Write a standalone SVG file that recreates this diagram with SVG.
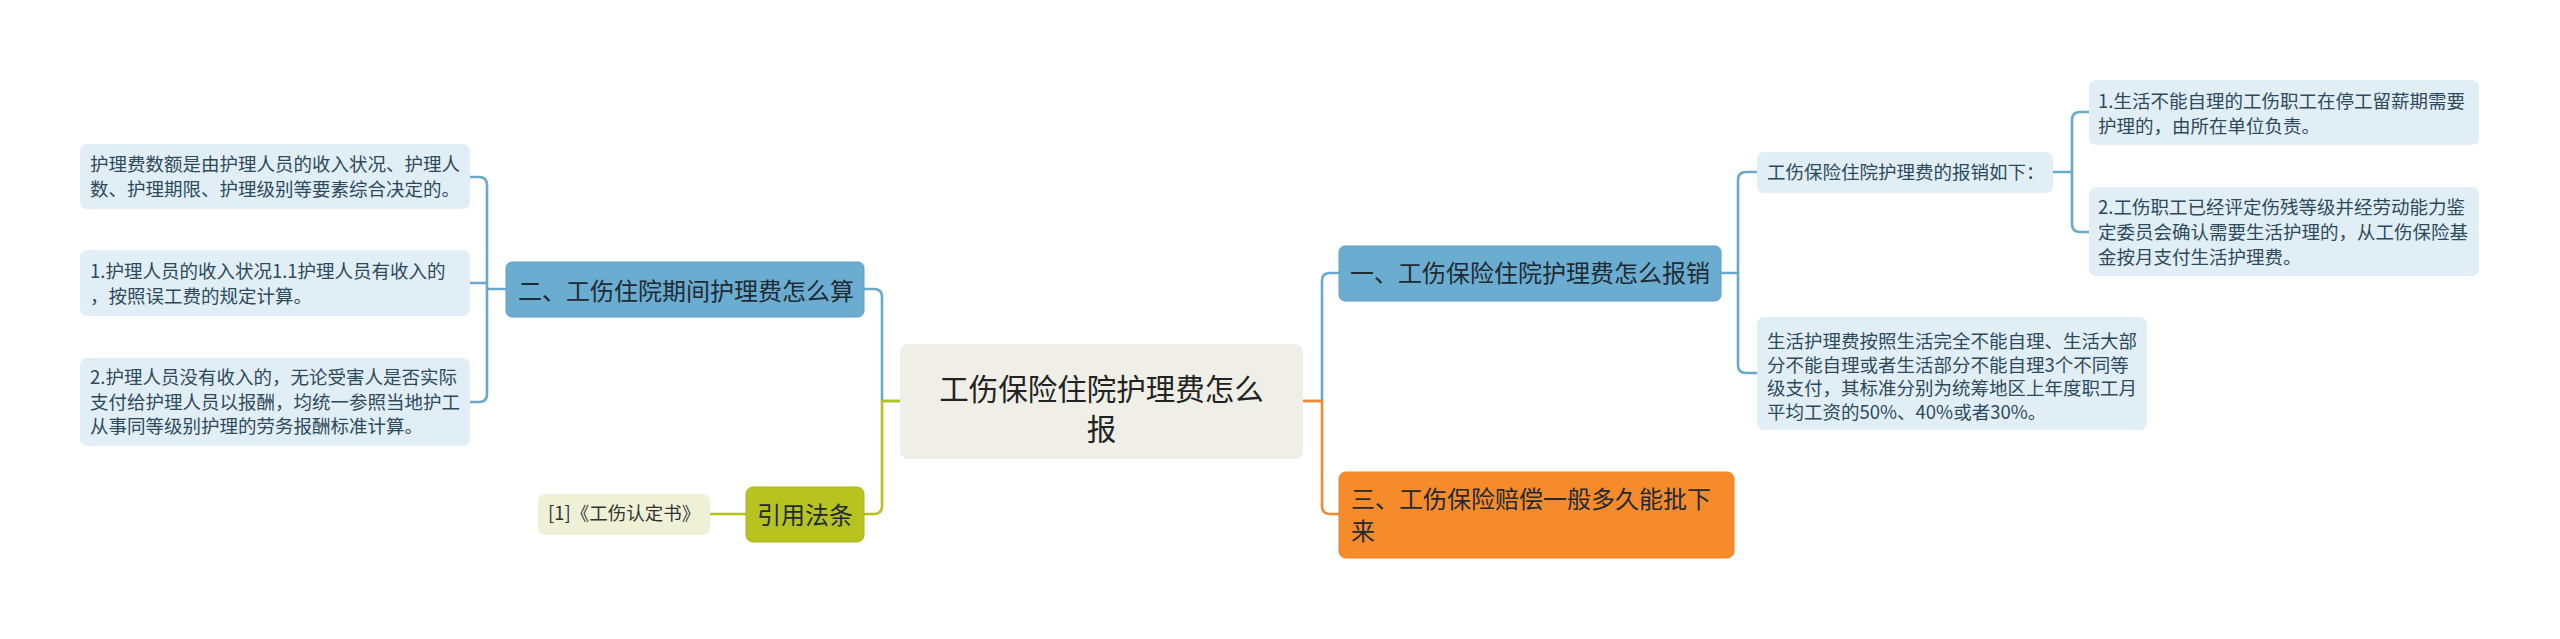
<svg xmlns="http://www.w3.org/2000/svg" width="2560" height="639" viewBox="0 0 2560 639">
<style>
text{font-family:"Noto Sans CJK SC","Noto Sans",sans-serif;}
.c{fill:none;stroke-width:2.6;stroke-linecap:round;stroke-linejoin:round;}
.cb{stroke:#6aa9cb;}
.cg{stroke:#b4c21f;}
.co{stroke:#ef8a2f;}
.leaf{fill:#e2eef6;}
.lt{font-size:18.5px;fill:#2c4a5c;}
.bb{fill:#6badd1;stroke:#5f9fc4;stroke-width:1;}
.bt{font-size:24px;fill:#1f2a33;}
</style>
<rect width="2560" height="639" fill="#ffffff"/>
<g id="connectors">
<path class="c cb" d="M900,401 H882 V297 Q882,289 874,289 H864"/>
<path class="c cg" d="M900,401 H882 V506 Q882,514 874,514 H864"/>
<path class="c cg" d="M746,514 H710"/>
<path class="c cb" d="M506,289 H487"/>
<path class="c cb" d="M470,177 H479 Q487,177 487,185 V394 Q487,402 479,402 H470"/>
<path class="c cb" d="M470,283 H487"/>
<path class="c cb" d="M1303,401 H1322 V281 Q1322,273 1330,273 H1339"/>
<path class="c co" d="M1303,401 H1322 V506 Q1322,514 1330,514 H1339"/>
<path class="c cb" d="M1721,273 H1738"/>
<path class="c cb" d="M1757,172 H1746 Q1738,172 1738,180 V365 Q1738,373 1746,373 H1757"/>
<path class="c cb" d="M2053,172 H2072"/>
<path class="c cb" d="M2089,112 H2080 Q2072,112 2072,120 V224 Q2072,232 2080,232 H2089"/>
</g>
<g id="center">
<rect x="900" y="344" width="403" height="115" rx="8" fill="#efefe8"/>
<text x="1101.5" y="400" text-anchor="middle" font-size="29.5" fill="#222">工伤保险住院护理费怎么</text>
<text x="1101.5" y="440" text-anchor="middle" font-size="29.5" fill="#222">报</text>
</g>
<g id="branch-left">
<rect class="bb" x="506" y="262" width="358" height="55" rx="6"/>
<text class="bt" x="518" y="300">二、工伤住院期间护理费怎么算</text>
</g>
<g id="leaf-left-1">
<rect class="leaf" x="80" y="144" width="390" height="65" rx="7"/>
<text class="lt" x="90" y="171">护理费数额是由护理人员的收入状况、护理人</text>
<text class="lt" x="90" y="196">数、护理期限、护理级别等要素综合决定的。</text>
</g>
<g id="leaf-left-2">
<rect class="leaf" x="80" y="250" width="390" height="66" rx="7"/>
<text class="lt" x="90" y="278">1.护理人员的收入状况1.1护理人员有收入的</text>
<text class="lt" x="90" y="303">，按照误工费的规定计算。</text>
</g>
<g id="leaf-left-3">
<rect class="leaf" x="80" y="358" width="390" height="88" rx="7"/>
<text class="lt" x="90" y="384">2.护理人员没有收入的，无论受害人是否实际</text>
<text class="lt" x="90" y="409">支付给护理人员以报酬，均统一参照当地护工</text>
<text class="lt" x="90" y="433">从事同等级别护理的劳务报酬标准计算。</text>
</g>
<g id="branch-law">
<rect x="746" y="487" width="118" height="55" rx="7" fill="#b7c31e" stroke="#a9b51a" stroke-width="1"/>
<text class="bt" x="805" y="524" text-anchor="middle">引用法条</text>
</g>
<g id="leaf-law">
<rect x="538" y="494" width="172" height="41" rx="7" fill="#eff1d7"/>
<text x="548" y="520" font-size="18.5" fill="#333">[1]《工伤认定书》</text>
</g>
<g id="branch-right-1">
<rect class="bb" x="1339" y="246" width="382" height="55" rx="6"/>
<text class="bt" x="1350" y="282">一、工伤保险住院护理费怎么报销</text>
</g>
<g id="leaf-r-a">
<rect class="leaf" x="1757" y="152" width="296" height="41" rx="7"/>
<text class="lt" x="1767" y="179">工伤保险住院护理费的报销如下：</text>
</g>
<g id="leaf-r-a1">
<rect class="leaf" x="2089" y="80" width="390" height="65" rx="7"/>
<text class="lt" x="2098" y="108">1.生活不能自理的工伤职工在停工留薪期需要</text>
<text class="lt" x="2098" y="133">护理的，由所在单位负责。</text>
</g>
<g id="leaf-r-a2">
<rect class="leaf" x="2089" y="187" width="390" height="89" rx="7"/>
<text class="lt" x="2098" y="214">2.工伤职工已经评定伤残等级并经劳动能力鉴</text>
<text class="lt" x="2098" y="239">定委员会确认需要生活护理的，从工伤保险基</text>
<text class="lt" x="2098" y="264">金按月支付生活护理费。</text>
</g>
<g id="leaf-r-b">
<rect class="leaf" x="1757" y="317" width="390" height="113" rx="7"/>
<text class="lt" x="1767" y="348">生活护理费按照生活完全不能自理、生活大部</text>
<text class="lt" x="1767" y="372">分不能自理或者生活部分不能自理3个不同等</text>
<text class="lt" x="1767" y="395">级支付，其标准分别为统筹地区上年度职工月</text>
<text class="lt" x="1767" y="419">平均工资的50%、40%或者30%。</text>
</g>
<g id="branch-right-3">
<rect x="1339" y="472" width="395" height="86" rx="7" fill="#f68b2c" stroke="#ea7f22" stroke-width="1"/>
<text class="bt" x="1351" y="508">三、工伤保险赔偿一般多久能批下</text>
<text class="bt" x="1351" y="540">来</text>
</g>
</svg>
